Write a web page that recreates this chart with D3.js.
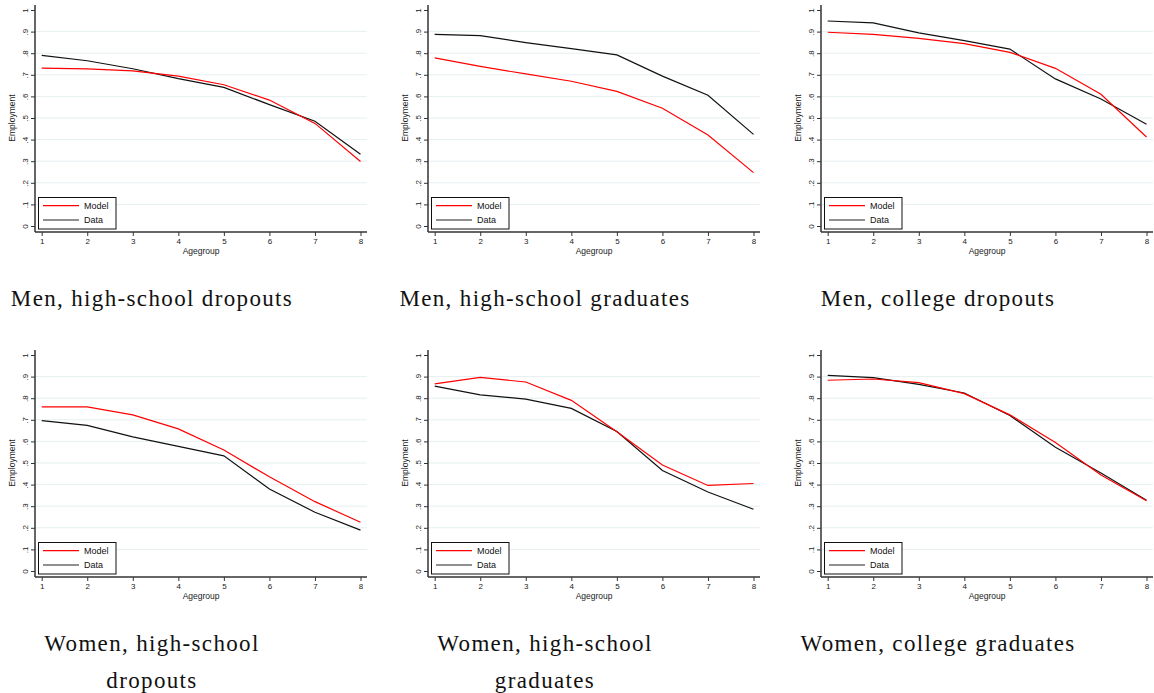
<!DOCTYPE html>
<html>
<head>
<meta charset="utf-8">
<script src="https://cdn.jsdelivr.net/npm/d3@7"></script>
<style>
  body { margin: 0; background: #fff; }
  svg { display: block; }
  .axis text { font-family: "Liberation Sans", Arial, sans-serif; }
  .caption { font-family: "Liberation Serif", "DejaVu Serif", serif; fill: #111; letter-spacing: 1.35px; }
</style>
</head>
<body>
<div id="chart"></div>
<script>
// age groups on the x axis
const ageGroups = [1, 2, 3, 4, 5, 6, 7, 8];
const yTicks = [0, 0.1, 0.2, 0.3, 0.4, 0.5, 0.6, 0.7, 0.8, 0.9, 1];
const yTickLabels = ["0", ".1", ".2", ".3", ".4", ".5", ".6", ".7", ".8", ".9", "1"];
const xTitle = "Agegroup";
const yTitle = "Employment";
const legendLabels = ["Model", "Data"];

// employment rates
const menHsDropModel   = [0.731, 0.727, 0.718, 0.694, 0.654, 0.583, 0.475, 0.299];
const menHsDropData    = [0.790, 0.765, 0.728, 0.682, 0.642, 0.562, 0.485, 0.332];
const menHsGradModel   = [0.778, 0.739, 0.704, 0.670, 0.623, 0.545, 0.421, 0.247];
const menHsGradData    = [0.887, 0.881, 0.849, 0.821, 0.792, 0.694, 0.605, 0.424];
const menColDropModel  = [0.897, 0.887, 0.869, 0.844, 0.804, 0.730, 0.610, 0.412];
const menColDropData   = [0.949, 0.940, 0.894, 0.858, 0.819, 0.681, 0.588, 0.471];
const womHsDropModel   = [0.760, 0.760, 0.723, 0.658, 0.560, 0.436, 0.321, 0.226];
const womHsDropData    = [0.696, 0.674, 0.621, 0.577, 0.533, 0.380, 0.272, 0.189];
const womHsGradModel   = [0.866, 0.896, 0.875, 0.790, 0.645, 0.491, 0.396, 0.405];
const womHsGradData    = [0.856, 0.815, 0.796, 0.753, 0.646, 0.465, 0.366, 0.286];
const womColGradModel  = [0.883, 0.889, 0.872, 0.821, 0.723, 0.595, 0.444, 0.325];
const womColGradData   = [0.906, 0.895, 0.864, 0.824, 0.720, 0.573, 0.454, 0.328];

const captions = [
  ["Men, high-school dropouts"],
  ["Men, high-school graduates"],
  ["Men, college dropouts"],
  ["Women, high-school", "dropouts"],
  ["Women, high-school", "graduates"],
  ["Women, college graduates"]
];

const panels = [
  { model: menHsDropModel,  data: menHsDropData },
  { model: menHsGradModel,  data: menHsGradData },
  { model: menColDropModel, data: menColDropData },
  { model: womHsDropModel,  data: womHsDropData },
  { model: womHsGradModel,  data: womHsGradData },
  { model: womColGradModel, data: womColGradData }
];

const width = 1154, height = 693;
const colX = [35, 428, 821];   // y-axis position of each column
const rowY = [10, 355];        // pixel of y = 1 in each row
const plotH = 216, plotW = 332;
const captionBase = [[306], [651, 688]];

const svg = d3.select("#chart").append("svg")
  .attr("width", width)
  .attr("height", height);

panels.forEach((p, i) => {
  const left = colX[i % 3];
  const top = rowY[Math.floor(i / 3)];
  const g = svg.append("g");

  const x = d3.scaleLinear().domain([1, 8]).range([left + 6.7, left + 325.5]);
  const y = d3.scaleLinear().domain([0, 1]).range([top + plotH, top]);

  // grid lines
  g.selectAll("line.grid")
    .data(yTicks.filter(t => t > 0 && t < 1))
    .enter().append("line")
    .attr("class", "grid")
    .attr("x1", left).attr("x2", left + plotW)
    .attr("y1", d => y(d)).attr("y2", d => y(d))
    .attr("stroke", "#e6eff1")
    .attr("stroke-width", 1);

  // y axis
  const yAxis = g.append("g")
    .attr("class", "axis")
    .attr("transform", `translate(${left},0)`)
    .call(d3.axisLeft(y).tickValues(yTicks).tickSize(4)
      .tickFormat((d, k) => yTickLabels[k]));
  yAxis.select(".domain").remove();
  yAxis.selectAll(".tick line").attr("stroke", "#333");
  yAxis.selectAll(".tick text")
    .attr("transform", "rotate(-90)")
    .attr("x", 0).attr("y", -7.5).attr("dy", 0)
    .style("text-anchor", "middle")
    .style("font-size", "8px")
    .attr("fill", "#222");
  g.append("line")
    .attr("x1", left).attr("x2", left)
    .attr("y1", top - 5).attr("y2", top + plotH + 6)
    .attr("stroke", "#333").attr("stroke-width", 1.5);

  // x axis
  const xAxis = g.append("g")
    .attr("class", "axis")
    .attr("transform", `translate(0,${top + plotH + 6})`)
    .call(d3.axisBottom(x).tickValues(ageGroups).tickSize(4).tickFormat(d3.format("d")));
  xAxis.select(".domain").remove();
  xAxis.selectAll(".tick line").attr("stroke", "#333");
  xAxis.selectAll(".tick text").style("font-size", "8px").attr("fill", "#222").attr("y", 6);
  g.append("line")
    .attr("x1", left).attr("x2", left + plotW)
    .attr("y1", top + plotH + 6).attr("y2", top + plotH + 6)
    .attr("stroke", "#333").attr("stroke-width", 1.5);

  // axis titles
  g.append("text")
    .attr("x", (x(1) + x(8)) / 2)
    .attr("y", top + 243.5)
    .attr("text-anchor", "middle")
    .style("font-family", "Liberation Sans, Arial, sans-serif")
    .style("font-size", "8.5px")
    .attr("fill", "#222")
    .text(xTitle);
  g.append("text")
    .attr("transform", `translate(${left - 20},${top + plotH / 2}) rotate(-90)`)
    .attr("text-anchor", "middle")
    .style("font-family", "Liberation Sans, Arial, sans-serif")
    .style("font-size", "8.5px")
    .attr("fill", "#222")
    .text(yTitle);

  // series lines
  const line = d3.line()
    .x((d, k) => x(ageGroups[k]))
    .y(d => y(d));
  g.append("path")
    .datum(p.data)
    .attr("fill", "none")
    .attr("stroke", "#111")
    .attr("stroke-width", 1.2)
    .attr("d", line);
  g.append("path")
    .datum(p.model)
    .attr("fill", "none")
    .attr("stroke", "#ff0000")
    .attr("stroke-width", 1.2)
    .attr("d", line);

  // legend
  const lg = g.append("g").attr("transform", `translate(${left + 3.5},${top + 187.5})`);
  lg.append("rect")
    .attr("width", 77.5).attr("height", 31.5)
    .attr("fill", "#fff").attr("stroke", "#111").attr("stroke-width", 1);
  const colors = ["#ff0000", "#222"];
  legendLabels.forEach((lab, k) => {
    lg.append("line")
      .attr("x1", 4.5).attr("x2", 40.5)
      .attr("y1", 8.2 + k * 14.3).attr("y2", 8.2 + k * 14.3)
      .attr("stroke", colors[k]).attr("stroke-width", 1.2);
    lg.append("text")
      .attr("x", 45.5).attr("y", 11.8 + k * 14)
      .style("font-family", "Liberation Sans, Arial, sans-serif")
      .style("font-size", "9px")
      .attr("fill", "#111")
      .text(lab);
  });

  // caption under the panel
  const rowBase = captionBase[Math.floor(i / 3)];
  captions[i].forEach((txt, k) => {
    svg.append("text")
      .attr("class", "caption")
      .attr("x", left + 117)
      .attr("y", rowBase[k])
      .attr("text-anchor", "middle")
      .style("font-size", "23px")
      .text(txt);
  });
});
</script>
</body>
</html>
